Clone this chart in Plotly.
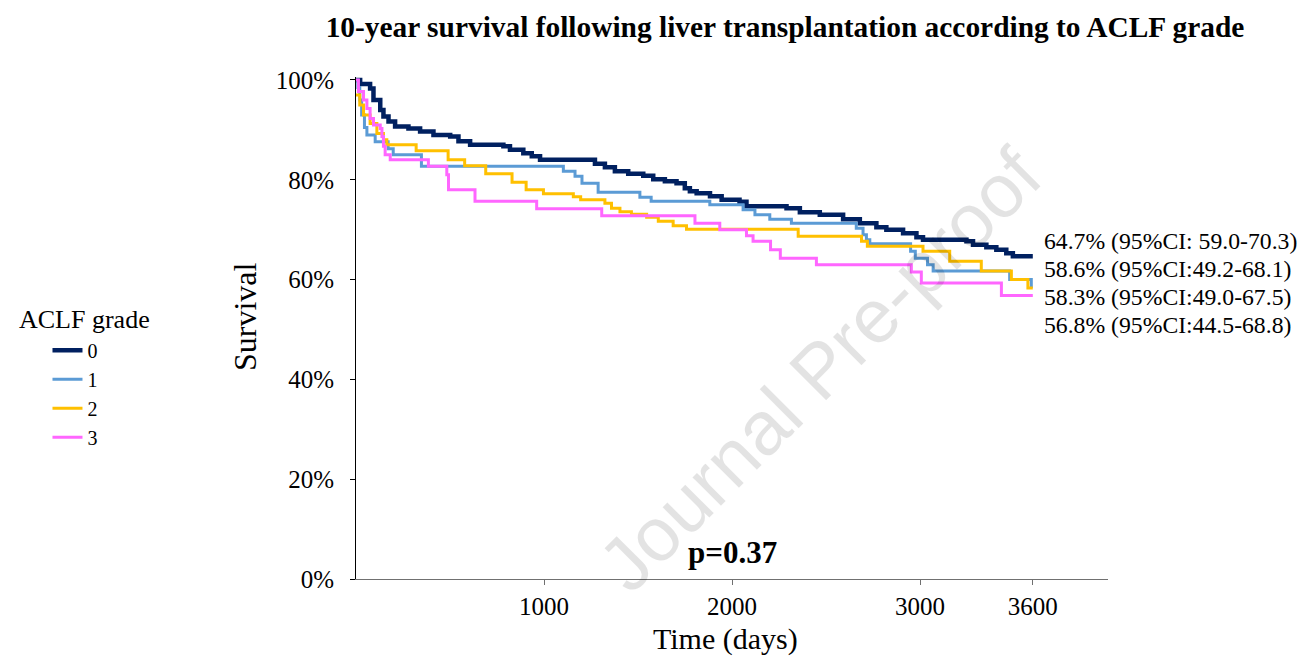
import plotly.graph_objects as go

# ---- data ----
grades = ["0", "1", "2", "3"]
colors = ["#002060", "#5B9BD5", "#FFC000", "#FF66FF"]

days0 = [0, 22, 75, 93, 129, 146, 173, 208, 279, 341, 412, 501, 545, 607, 784, 819, 890, 935, 979, 1271,
         1324, 1377, 1448, 1528, 1581, 1643, 1705, 1749, 1776, 1812, 1883, 1945, 2040, 2077, 2290, 2361, 2467,
         2591, 2680, 2768, 2821, 2910, 2981, 3016, 3247, 3282, 3353, 3406, 3459, 3494, 3600]
surv0 = [100, 99.2, 98.3, 96, 94, 92.7, 91.7, 90.7, 90.3, 89.7, 89, 88.7, 87.7, 87, 86.7, 86, 85.3, 84.7, 84, 83.2,
         82.5, 81.7, 81.2, 80.8, 80.1, 79.7, 79.3, 78.3, 77.7, 77.3, 76.7, 76, 75.6, 74.7, 74.3, 73.5, 73,
         72.1, 71.3, 70.5, 70, 69.3, 68.5, 68, 67.7, 67, 66.5, 66, 65.3, 64.7, 64.7]

days1 = [0, 10, 20, 30, 45, 58, 102, 171, 198, 348, 1103, 1165, 1202, 1288, 1510, 1570, 1882, 2059, 2122, 2201,
         2316, 2661, 2697, 2715, 2733, 2950, 2975, 3040, 3070, 3477, 3592, 3600]
surv1 = [100, 98.5, 96, 93, 90.5, 89, 87.6, 86.2, 85, 82.7, 81.7, 80.7, 79.3, 77.5, 76.5, 75.7, 75, 74, 73, 72.1,
         71.3, 70.3, 69, 68, 67.2, 65.7, 64.3, 63, 61.7, 60, 58.6, 58.6]

days2 = [0, 20, 40, 75, 111, 146, 164, 320, 490, 578, 690, 830, 905, 997, 1156, 1195, 1324, 1359, 1404, 1465,
         1546, 1608, 1687, 1758, 2352, 2689, 2720, 3016, 3158, 3326, 3486, 3574, 3600]
surv2 = [97, 95, 93, 91.3, 89.3, 88, 87, 85.8, 84, 82.8, 81.2, 79.5, 78, 77.2, 76.6, 76, 75.3, 74.3, 73.6, 73.1,
         72.5, 71.7, 70.8, 70.1, 68.7, 67.7, 66.7, 65.7, 63.7, 61.7, 60, 58.3, 58.3]

days3 = [0, 13, 40, 58, 75, 93, 129, 138, 146, 155, 182, 385, 483, 492, 633, 961, 1307, 1803, 1935, 2077,
         2112, 2205, 2257, 2449, 2954, 3007, 3433, 3600]
surv3 = [100, 97.7, 96, 94.3, 92.3, 91, 90.3, 88.7, 86.7, 85, 84, 82.7, 81, 78, 75.7, 74.2, 72.8, 71.3, 70, 68.8,
         67.7, 66, 64.3, 63, 61.5, 59.3, 56.8, 56.8]

x_ticks = [1000, 2000, 3000, 3600]
y_ticks = [0, 20, 40, 60, 80, 100]

ci_labels = ["64.7% (95%CI: 59.0-70.3)", "58.6% (95%CI:49.2-68.1)",
             "58.3% (95%CI:49.0-67.5)", "56.8% (95%CI:44.5-68.8)"]
p_label = "p=0.37"
title_text = "10-year survival following liver transplantation according to ACLF grade"

SERIF = "Liberation Serif, Times New Roman, serif"

# ---- layout geometry (page pixels; page body has an 8px offset) ----
OFF = 8
W, H = 1306 - OFF, 657 - OFF
PL, PR, PT, PB = 355.8, 1108.5, 77.0, 579.5   # plot area on page


def px(X):
    return (X - PL) / (PR - PL)


def py(Y):
    return (PB - Y) / (PB - PT)


fig = go.Figure()
all_days = [days0, days1, days2, days3]
all_surv = [surv0, surv1, surv2, surv3]
widths = [4.5, 3, 3, 3]
for g, d, s, c, w in zip(grades, all_days, all_surv, colors, widths):
    fig.add_trace(go.Scatter(x=d, y=s, mode="lines", name=g, legendgroup=g,
                             line=dict(color=c, width=w, shape="hv")))

fig.update_layout(
    width=W, height=H,
    margin=dict(l=PL - OFF, r=W - (PR - OFF), t=PT - OFF, b=H - (PB - OFF)),
    paper_bgcolor="white", plot_bgcolor="white",
    font=dict(family=SERIF, color="black", size=22),
    title=dict(text=f"<b>{title_text}</b>",
               x=(785 - OFF) / W, xanchor="center", xref="container",
               y=1 - (27 - OFF) / H, yanchor="middle", yref="container",
               font=dict(family=SERIF, size=29.4, color="black")),
    showlegend=True,
    legend=dict(x=px(47), xanchor="left", y=py(331), yanchor="top",
                font=dict(family=SERIF, size=20, color="black"),
                bgcolor="rgba(0,0,0,0)", tracegroupgap=0, itemwidth=30),
)

fig.update_xaxes(range=[0, 4000], tickvals=x_ticks, ticktext=[str(v) for v in x_ticks],
                 showgrid=False, zeroline=False, showline=True, linecolor="#707070", linewidth=1,
                 ticks="outside", ticklen=5, tickcolor="#707070",
                 tickfont=dict(family=SERIF, size=25))
fig.update_yaxes(range=[0, 100.6], tickvals=y_ticks, ticktext=[f"{v}%" for v in y_ticks],
                 showgrid=False, zeroline=False, showline=True, linecolor="black", linewidth=1,
                 ticks="outside", ticklen=5, tickcolor="black", ticklabelstandoff=11,
                 tickfont=dict(family=SERIF, size=25))

# axis titles
fig.add_annotation(text="Time (days)", xref="paper", yref="paper", x=px(726), y=py(640),
                   xanchor="center", yanchor="middle", showarrow=False,
                   font=dict(family=SERIF, size=30, color="black"))
fig.add_annotation(text="Survival", xref="paper", yref="paper", x=px(244), y=py(317),
                   xanchor="center", yanchor="middle", textangle=-90, showarrow=False,
                   font=dict(family=SERIF, size=32, color="black"))

# legend heading
fig.add_annotation(text="ACLF grade", xref="paper", yref="paper",
                   x=px(16), y=py(320), xanchor="left", yanchor="middle",
                   showarrow=False, font=dict(family=SERIF, size=26, color="black"))

# CI labels at the right
ci_y = [241, 269, 297, 325]
for t, yy in zip(ci_labels, ci_y):
    fig.add_annotation(text=t, xref="paper", yref="paper", x=px(1042), y=py(yy),
                       xanchor="left", yanchor="middle", showarrow=False,
                       font=dict(family=SERIF, size=23.7, color="black"))

fig.add_annotation(text=f"<b>{p_label}</b>", xref="paper", yref="paper",
                   x=px(733), y=py(553), xanchor="center", yanchor="middle",
                   showarrow=False, font=dict(family=SERIF, size=31, color="black"))

# watermark
fig.add_annotation(text="Journal Pre-proof", xref="paper", yref="paper",
                   x=px(820), y=py(370), xanchor="center", yanchor="middle",
                   textangle=-45, showarrow=False,
                   font=dict(family="Liberation Sans, Arial, sans-serif", size=76, color="rgba(0,0,0,0.11)"))

fig.write_html("out.html", post_script="document.body.style.overflow='hidden';")
